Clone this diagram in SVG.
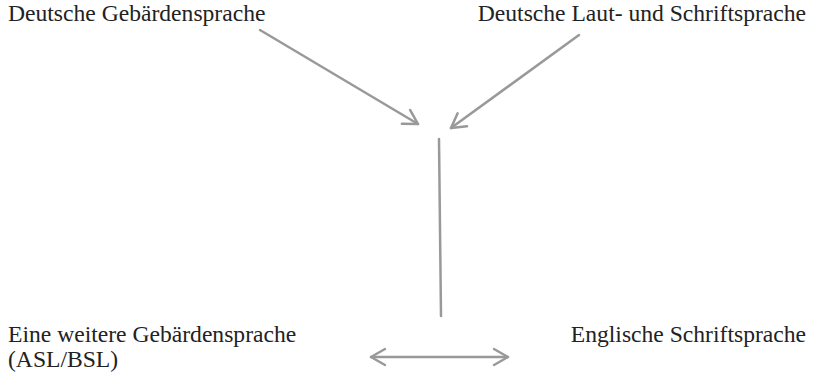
<svg xmlns="http://www.w3.org/2000/svg" width="814" height="377" viewBox="0 0 814 377">
<style>
text{font-family:"Liberation Serif","Times New Roman",serif;font-size:23.6px;fill:#222}
.r{text-anchor:end}
.c{stroke:#999;stroke-width:2.5;fill:none;stroke-linecap:round}
</style>
<defs>
<marker id="ah" markerUnits="userSpaceOnUse" viewBox="-16 -10 20 20" refX="0" refY="0" markerWidth="20" markerHeight="20" orient="auto-start-reverse">
<path d="M-14,-8 L0,0 L-14,8" fill="none" stroke="#999" stroke-width="2.5" stroke-linecap="round" stroke-linejoin="round"/>
</marker>
</defs>
<rect width="814" height="377" fill="#fff"/>
<g id="n1"><text x="8" y="21">Deutsche Gebärdensprache</text></g>
<g id="n2"><text class="r" x="806" y="21">Deutsche Laut- und Schriftsprache</text></g>
<g id="n3"><text x="8" y="342">Eine weitere Gebärdensprache</text><text x="8" y="367">(ASL/BSL)</text></g>
<g id="n4"><text class="r" x="806" y="342">Englische Schriftsprache</text></g>
<g id="connectors">
<line class="c" x1="260" y1="30" x2="418" y2="124" marker-end="url(#ah)"/>
<line class="c" x1="579" y1="35" x2="451" y2="128" marker-end="url(#ah)"/>
<line class="c" x1="439" y1="139" x2="441" y2="316"/>
<line class="c" x1="371" y1="357" x2="508" y2="357" marker-start="url(#ah)" marker-end="url(#ah)"/>
</g>
</svg>
